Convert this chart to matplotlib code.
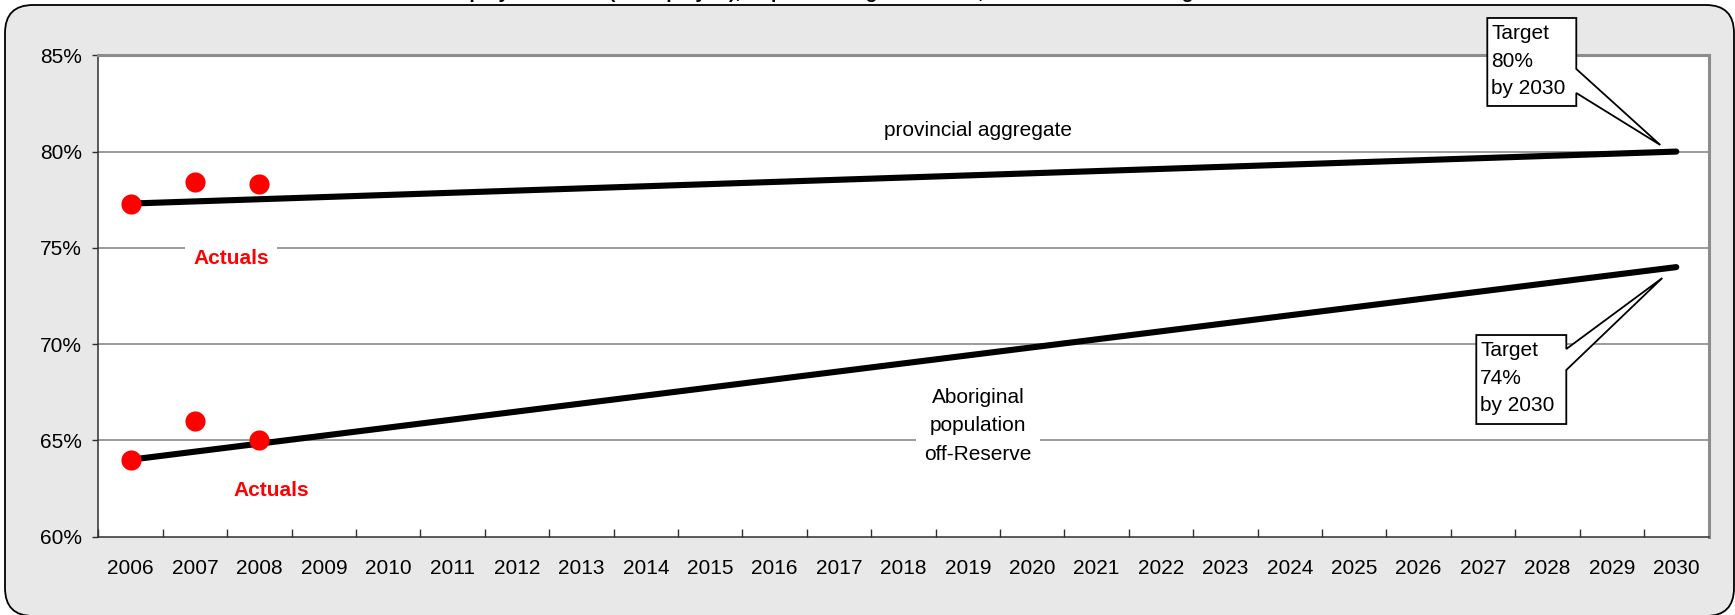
import matplotlib
matplotlib.use("Agg")
import matplotlib.pyplot as plt
from matplotlib.patches import Polygon, FancyBboxPatch
from matplotlib.transforms import IdentityTransform
import numpy as np

plt.rcParams["font.family"] = ["Liberation Sans", "DejaVu Sans"]

# Category axis
years = ["2006", "2007", "2008", "2009", "2010", "2011", "2012", "2013",
         "2014", "2015", "2016", "2017", "2018", "2019", "2020", "2021",
         "2022", "2023", "2024", "2025", "2026", "2027", "2028", "2029", "2030"]

# Observed employment rates (%)
actual_years = ["2006", "2007", "2008"]
provincial_actuals = [77.3, 78.4, 78.3]
aboriginal_actuals = [64.0, 66.0, 65.0]

# Path from the 2006 base to the 2030 target (%)
trend_years = ["2006", "2030"]
provincial_trend = [77.3, 80.0]
aboriginal_trend = [64.0, 74.0]

y_ticks = [60, 65, 70, 75, 80, 85]
y_labels = ["60%", "65%", "70%", "75%", "80%", "85%"]

FS = 15.0
W, H, DPI = 1735, 615, 100
fig = plt.figure(figsize=(W / DPI, H / DPI), dpi=DPI, facecolor="white")

# Rounded chart-area frame
frame = FancyBboxPatch((0.05, -0.01), 17.29, 6.11,
                       boxstyle="round,pad=0,rounding_size=0.28",
                       transform=fig.dpi_scale_trans,
                       fc="#e8e8e8", ec="black", lw=1.3, zorder=-10)
fig.add_artist(frame)

fig.text(830 / W, 1.0025, "Employment Rate (% employed), Population Aged 25 to 64, Actuals and 2030 Targets",
         ha="center", va="baseline", fontsize=14, fontweight="bold")

left, right, top, bottom = 98.4, 1708.5, 55.3, 536.7
ax = fig.add_axes([left / W, 1 - bottom / H, (right - left) / W, (bottom - top) / H])
ax.set_facecolor("white")

xpos = {y: i for i, y in enumerate(years)}

ax.set_xlim(-0.5, len(years) - 0.5)
ax.set_ylim(60, 85)

# Grid
for v in y_ticks[1:-1]:
    ax.axhline(v, color="#808080", lw=1.1, zorder=1)

# Spines
for s in ("left", "bottom"):
    ax.spines[s].set_color("#303030")
    ax.spines[s].set_linewidth(1.1)
for s in ("top", "right"):
    ax.spines[s].set_color("#8c8c8c")
    ax.spines[s].set_linewidth(2.2)

# Ticks
ax.set_yticks(y_ticks)
ax.set_yticklabels(y_labels)
ax.tick_params(axis="y", direction="out", length=4, width=1, color="#303030",
               labelsize=FS, pad=8)
ax.set_xticks(np.arange(-0.5, len(years), 1.0))
ax.tick_params(axis="x", which="major", direction="in", length=6, width=1,
               color="#303030", labelbottom=False)
ax.set_xticks(np.arange(len(years)), minor=True)
ax.set_xticklabels(years, minor=True)
ax.tick_params(axis="x", which="minor", length=0, labelsize=FS, pad=16)

# Trend lines
ax.plot([xpos[y] for y in trend_years], provincial_trend, color="black",
        lw=4.4, solid_capstyle="round", zorder=3)
ax.plot([xpos[y] for y in trend_years], aboriginal_trend, color="black",
        lw=4.4, solid_capstyle="round", zorder=3)

# Actual values
ax.plot([xpos[y] for y in actual_years], provincial_actuals, "o", color="#ff0000",
        ms=14.5, mec="none", zorder=4)
ax.plot([xpos[y] for y in actual_years], aboriginal_actuals, "o", color="#ff0000",
        ms=14.5, mec="none", zorder=4)

# Labels
ax.text(13.16, 81.07, "provincial aggregate", ha="center", va="center",
        fontsize=FS, zorder=2)
ax.text(13.16, 65.75, "Aboriginal\npopulation\noff-Reserve", ha="center", va="center",
        fontsize=FS, linespacing=1.62, zorder=2,
        bbox=dict(boxstyle="square,pad=0.4", fc="white", ec="none"))
ax.text(1.56, 74.45, "Actuals", ha="center", va="center", fontsize=FS,
        fontweight="bold", color="#ff0000", zorder=2,
        bbox=dict(boxstyle="square,pad=0.4", fc="white", ec="none"))
ax.text(2.19, 62.4, "Actuals", ha="center", va="center", fontsize=FS,
        fontweight="bold", color="#ff0000", zorder=2)


def callout(anchor, box, wedge_y, tip, label):
    """Rectangle callout with a pointer; offsets are pixels from the anchor (y up)."""
    px, py = ax.transData.transform(anchor)
    x0, x1, y_top, y_bot = box
    wa, wb = wedge_y
    verts = [(x0, y_top), (x1, y_top), (x1, wa), tip, (x1, wb), (x1, y_bot), (x0, y_bot)]
    verts = [(px + dx, py + dy) for dx, dy in verts]
    fig.add_artist(Polygon(verts, closed=True, fc="white", ec="black", lw=1.3,
                           transform=IdentityTransform(), zorder=5))
    fig.text(px + x0 + 4, py + y_top - 6, label, ha="left", va="top",
             fontsize=FS, linespacing=1.58, transform=IdentityTransform(), zorder=6)


callout((xpos["2030"], provincial_trend[-1]), (-189, -100, 133.6, 45.6),
        (82.6, 58.6), (-16, 6.6), "Target\n80%\nby 2030")
callout((xpos["2030"], aboriginal_trend[-1]), (-200, -110, -67.9, -156.9),
        (-81.9, -102.9), (-14, -10.9), "Target\n74%\nby 2030")

fig.savefig("out.png", dpi=DPI, facecolor="white")
